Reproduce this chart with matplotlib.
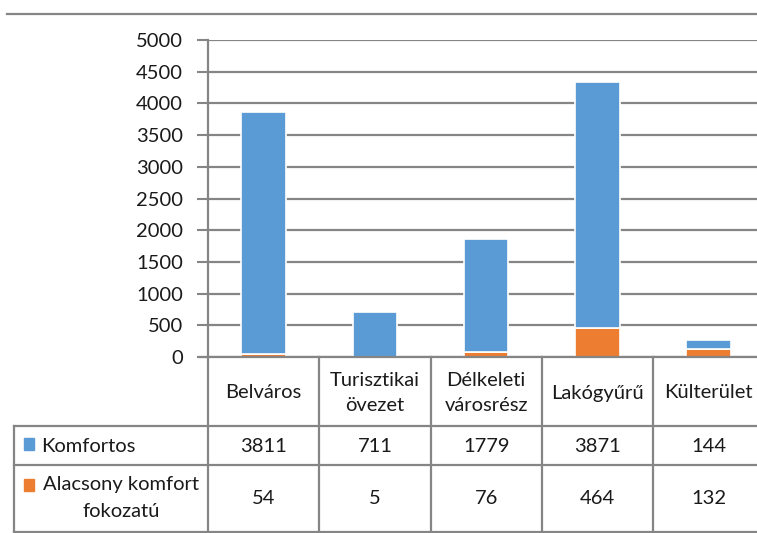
import numpy as np
from matplotlib import pyplot as plt

plt.rcParams['font.family'] = ['Lato', 'DejaVu Sans']

# data
categories = ['Belváros', 'Turisztikai\növezet', 'Délkeleti\nvárosrész', 'Lakógyűrű', 'Külterület']
komfortos = [3811, 711, 1779, 3871, 144]
alacsony = [54, 5, 76, 464, 132]
series_names = ['Komfortos', 'Alacsony komfort\nfokozatú']
yticks = np.arange(0, 5001, 500)

BLUE = '#5B9BD5'
ORANGE = '#ED7D31'
GRID = '#858585'
TXT = '#1a1a1a'
FS = 14.5
W, H = 757, 533

fig = plt.figure(figsize=(W / 100, H / 100), dpi=100)

# chart area in pixel terms
left, top, bottom = 208, 40, 357
colw = 111.25
ax = fig.add_axes([left / W, 1 - bottom / H, (W - left) / W, (bottom - top) / H])
x = np.arange(len(categories)) + 0.5
ax.bar(x, alacsony, width=0.40, color=ORANGE, edgecolor='white', linewidth=1.2, zorder=3)
ax.bar(x, komfortos, bottom=alacsony, width=0.40, color=BLUE, edgecolor='white', linewidth=1.2, zorder=3)
ax.set_xlim(0, (W - left) / colw)
ax.set_ylim(0, 5000)
ax.set_yticks(yticks)
ax.set_yticklabels([str(v) for v in yticks], fontsize=FS, color=TXT)
ax.tick_params(axis='y', length=8, width=1.5, color=GRID, pad=10)
ax.set_xticks([])
ax.grid(axis='y', color=GRID, linewidth=1.6, zorder=0)
for s in ['top', 'right', 'bottom']:
    ax.spines[s].set_visible(False)
ax.spines['left'].set_color(GRID)
ax.spines['left'].set_linewidth(1.6)

# overlay in pixel coords for the data table
ov = fig.add_axes([0, 0, 1, 1], zorder=5)
ov.set_xlim(0, W)
ov.set_ylim(H, 0)
ov.axis('off')
ov.patch.set_alpha(0)

lc = dict(color=GRID, linewidth=1.6)
ov.plot([7, W], [14, 14], **lc)
ov.plot([200, W], [bottom, bottom], **lc)
ov.plot([14, W], [426, 426], **lc)
ov.plot([14, W], [465, 465], **lc)
ov.plot([14, W], [531.5, 531.5], **lc)
ov.plot([14, 14], [426, 533], **lc)
for i in range(len(categories) + 1):
    xx = left + i * colw
    if xx < W:
        ov.plot([xx, xx], [bottom, 533], **lc)

for i, cat in enumerate(categories):
    cx = left + colw * (i + 0.5)
    ov.text(cx, 393, cat, ha='center', va='center', fontsize=FS, color=TXT, linespacing=1.55)
    ov.text(cx, 446, str(komfortos[i]), ha='center', va='center', fontsize=FS, color=TXT)
    ov.text(cx, 499, str(alacsony[i]), ha='center', va='center', fontsize=FS, color=TXT)

# row headers with legend keys
ov.add_patch(plt.Rectangle((24, 438), 10, 12, color=BLUE))
ov.text(41, 446, series_names[0], ha='left', va='center', fontsize=FS, color=TXT)
ov.add_patch(plt.Rectangle((24, 479), 10, 12, color=ORANGE))
ov.text(121, 498, series_names[1], ha='center', va='center', fontsize=FS, color=TXT, linespacing=1.7)

fig.savefig('out.png', dpi=100)
